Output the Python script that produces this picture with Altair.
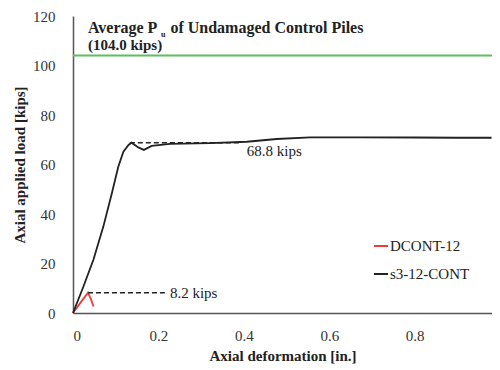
import altair as alt
import pandas as pd

# ---- data ----
s3_deform = [0.0, 0.024, 0.048, 0.071, 0.091, 0.106, 0.118, 0.130, 0.137, 0.153, 0.166,
             0.184, 0.227, 0.321, 0.407, 0.477, 0.555, 0.672, 0.80, 0.90, 0.98]
s3_load = [0.0, 10.5, 21.6, 34.9, 48.4, 59.1, 65.2, 67.9, 68.8, 66.9, 65.9,
           67.5, 68.3, 68.6, 69.2, 70.3, 71.0, 71.0, 70.9, 70.8, 70.8]
d_deform = [0.0, 0.018, 0.035, 0.042, 0.048]
d_load = [0.0, 4.3, 8.2, 5.6, 2.6]
series_names = ["DCONT-12", "s3-12-CONT"]
series_colors = ["#f03a3a", "#222222"]

control_avg = 104.0
peak_x0 = [0.035, 0.133]
peak_x1 = [0.215, 0.395]
peak_vals = [8.2, 68.8]
peak_label_x = [0.227, 0.407]
peak_label_y = [8.2, 65.6]
peak_labels = ["8.2 kips", "68.8 kips"]

x_ticks = [0, 0.2, 0.4, 0.6, 0.8]
y_ticks = [0, 20, 40, 60, 80, 100, 120]

SERIF = "Liberation Serif"

df = pd.DataFrame(
    {"deform": d_deform + s3_deform,
     "load": d_load + s3_load,
     "series": [series_names[0]] * len(d_deform) + [series_names[1]] * len(s3_deform),
     "order": list(range(len(d_deform))) + list(range(len(s3_deform)))}
)

xs = alt.Scale(domain=[0, 0.981], nice=False, zero=False)
ys = alt.Scale(domain=[0, 120], nice=False)

x_enc = alt.X("deform:Q", scale=xs, title="Axial deformation [in.]",
              axis=alt.Axis(values=x_ticks,
                            labelExpr="datum.value == 0 ? '0' : format(datum.value, '.1f')",
                            labelPadding=15, titlePadding=5))
y_enc = alt.Y("load:Q", scale=ys, title="Axial applied load [kips]",
              axis=alt.Axis(values=y_ticks, labelPadding=18, titlePadding=5))

lines = alt.Chart(df).mark_line(strokeWidth=1.8).encode(
    x=x_enc, y=y_enc,
    color=alt.Color("series:N",
                    scale=alt.Scale(domain=series_names, range=series_colors),
                    legend=alt.Legend(title=None, orient="none", legendX=300, legendY=222,
                                      symbolType="stroke", symbolSize=196,
                                      symbolStrokeWidth=2, labelFont=SERIF,
                                      labelFontSize=15, labelColor="#222",
                                      rowPadding=12, labelOffset=1)),
    order="order:Q",
)

green = alt.Chart(pd.DataFrame({"y": [control_avg]})).mark_rule(
    color="#5cc05c", strokeWidth=2).encode(y=alt.Y("y:Q", scale=ys))

dash_df = pd.DataFrame({"x0": peak_x0, "x1": peak_x1, "y": peak_vals})
dashes = alt.Chart(dash_df).mark_rule(
    color="#222", strokeWidth=1.5, strokeDash=[5, 3]).encode(
    x=alt.X("x0:Q", scale=xs), x2="x1:Q", y=alt.Y("y:Q", scale=ys))

lab_df = pd.DataFrame({"x": peak_label_x, "y": peak_label_y, "t": peak_labels})
labels = alt.Chart(lab_df).mark_text(
    align="left", baseline="middle", font=SERIF, fontSize=15, color="#222").encode(
    x=alt.X("x:Q", scale=xs), y=alt.Y("y:Q", scale=ys), text="t:N")

line1_df = pd.DataFrame({"x": [0.035, 0.228], "y": [115.2, 115.2],
                         "t": ["Average P", "of Undamaged Control Piles"]})
line1 = alt.Chart(line1_df).mark_text(
    align="left", baseline="middle", font=SERIF, fontWeight="bold", fontSize=16,
    color="#222").encode(x=alt.X("x:Q", scale=xs), y=alt.Y("y:Q", scale=ys), text="t:N")

sub_df = pd.DataFrame({"x": [0.206], "y": [112.4], "t": ["u"]})
sub = alt.Chart(sub_df).mark_text(
    align="left", baseline="middle", font=SERIF, fontWeight="bold", fontSize=8,
    color="#222").encode(x=alt.X("x:Q", scale=xs), y=alt.Y("y:Q", scale=ys), text="t:N")

line2_df = pd.DataFrame({"x": [0.035], "y": [108.3], "t": ["(104.0 kips)"]})
line2 = alt.Chart(line2_df).mark_text(
    align="left", baseline="middle", font=SERIF, fontWeight="bold", fontSize=15,
    color="#222").encode(x=alt.X("x:Q", scale=xs), y=alt.Y("y:Q", scale=ys), text="t:N")

chart = alt.layer(green, lines, dashes, labels, line1, sub, line2).properties(
    width=419, height=297,
    autosize=alt.AutoSizeParams(type="none"),
    padding={"left": 65, "top": 8, "right": 0, "bottom": 54},
).configure_view(stroke=None).configure_axis(
    grid=False, ticks=False, tickSize=0, domainColor="#555", domainWidth=1.5,
    labelFont=SERIF, labelFontSize=15, labelColor="#333",
    titleFont=SERIF, titleFontSize=15, titleFontWeight="bold", titleColor="#222",
)

chart.save("out.html", embed_options={"renderer": "svg", "actions": False})
